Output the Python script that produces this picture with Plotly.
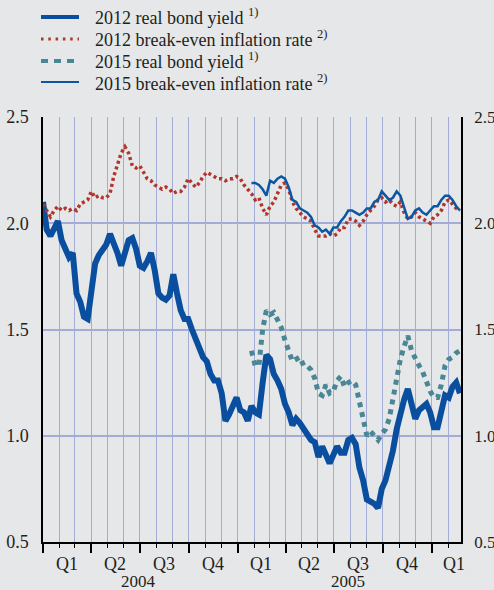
import pandas as pd
import plotly.graph_objects as go

# weekly observation dates (Jan 2004 - Feb 2006)
dates = pd.date_range("2004-01-01", periods=113, freq="7D")
dates15 = dates[56:]

real_2012 = [2.10,1.97,1.94,1.97,2.01,1.92,1.87,1.84,1.86,1.67,
             1.63,1.56,1.55,1.70,1.81,1.85,1.87,1.90,1.95,1.91,
             1.86,1.80,1.86,1.92,1.93,1.88,1.80,1.79,1.82,1.86,
             1.78,1.67,1.65,1.64,1.66,1.76,1.67,1.59,1.55,1.55,
             1.50,1.46,1.41,1.37,1.35,1.29,1.26,1.26,1.20,1.07,
             1.10,1.15,1.18,1.12,1.11,1.07,1.14,1.11,1.10,1.25,
             1.38,1.36,1.29,1.26,1.22,1.15,1.11,1.05,1.08,1.06,
             1.03,1.01,0.98,0.97,0.90,0.95,0.90,0.87,0.91,0.95,
             0.92,0.92,0.98,0.99,0.96,0.85,0.79,0.70,0.69,0.68,
             0.66,0.75,0.79,0.85,0.93,1.03,1.11,1.17,1.22,1.14,
             1.08,1.12,1.14,1.15,1.11,1.04,1.04,1.12,1.19,1.18,
             1.23,1.25,1.20]

bei_2012 = [2.09,2.06,2.03,2.06,2.08,2.06,2.07,2.06,2.07,2.06,
            2.09,2.10,2.11,2.15,2.12,2.13,2.12,2.12,2.14,2.22,
            2.28,2.33,2.36,2.33,2.27,2.26,2.27,2.24,2.21,2.20,
            2.18,2.17,2.16,2.17,2.16,2.14,2.15,2.15,2.17,2.21,
            2.19,2.17,2.19,2.22,2.24,2.23,2.22,2.21,2.21,2.20,
            2.21,2.21,2.22,2.21,2.18,2.16,2.14,2.11,2.12,2.07,
            2.04,2.08,2.10,2.14,2.18,2.19,2.16,2.10,2.07,2.05,
            2.03,2.02,2.01,1.97,1.94,1.94,1.94,1.95,1.94,1.95,
            1.98,1.98,2.02,2.02,2.01,1.99,2.01,2.04,2.06,2.08,
            2.11,2.12,2.10,2.11,2.09,2.08,2.10,2.05,2.02,2.03,
            2.05,2.03,2.02,2.01,2.00,2.03,2.04,2.06,2.10,2.11,
            2.09,2.07,2.06]

real_2015 = [1.40,1.33,1.33,1.50,1.59,1.57,1.58,1.55,1.51,1.45,
             1.40,1.35,1.36,1.37,1.33,1.33,1.31,1.27,1.20,1.19,
             1.24,1.20,1.21,1.26,1.28,1.23,1.25,1.26,1.24,1.16,
             1.10,1.00,1.02,1.00,0.98,1.01,1.03,1.08,1.18,1.26,
             1.36,1.42,1.47,1.40,1.36,1.33,1.30,1.25,1.21,1.18,
             1.18,1.24,1.33,1.36,1.37,1.39,1.40]

bei_2015 = [2.19,2.19,2.18,2.16,2.13,2.20,2.19,2.21,2.22,2.21,
            2.17,2.11,2.10,2.07,2.06,2.05,2.03,1.99,1.98,1.96,
            1.97,1.95,1.98,1.98,2.01,2.03,2.06,2.06,2.05,2.04,
            2.05,2.07,2.07,2.10,2.11,2.15,2.13,2.11,2.12,2.15,
            2.13,2.07,2.02,2.03,2.06,2.07,2.05,2.04,2.06,2.08,
            2.08,2.11,2.13,2.13,2.11,2.08,2.06]

series_names = ["2012 real bond yield <sup>1)</sup>",
                "2012 break-even inflation rate <sup>2)</sup>",
                "2015 real bond yield <sup>1)</sup>",
                "2015 break-even inflation rate <sup>2)</sup>"]

quarter_labels = ["Q1", "Q2", "Q3", "Q4", "Q1", "Q2", "Q3", "Q4", "Q1"]
quarter_pos = ["2004-02-15", "2004-05-16", "2004-08-16", "2004-11-15",
               "2005-02-14", "2005-05-16", "2005-08-16", "2005-11-15", "2006-02-11"]
year_labels = ["2004", "2005"]
year_pos = ["2004-06-28", "2005-07-27"]

FONT = "Liberation Serif"
TXT = "#231f20"
BG = "#e6e7e9"
GRID = "#a3acd6"

styles = [dict(color="#0a4f9f", width=6),
          dict(color="#b0362c", width=3.5, dash="3px,3px"),
          dict(color="#4a8796", width=5, dash="5px,5px"),
          dict(color="#0b57a4", width=2.5)]
legend_widths = [4, 3, 4, 2]

fig = go.Figure()
fig.add_trace(go.Scatter(x=dates, y=real_2012, mode="lines",
                         name=series_names[0], line=styles[0]))
fig.add_trace(go.Scatter(x=dates, y=bei_2012, mode="lines",
                         name=series_names[1], line=styles[1]))
fig.add_trace(go.Scatter(x=dates15, y=real_2015, mode="lines",
                         name=series_names[2], line=styles[2]))
fig.add_trace(go.Scatter(x=dates15, y=bei_2015, mode="lines", yaxis="y2",
                         name=series_names[3], line=styles[3]))

# plot area geometry in pixels (for the hand-drawn legend key)
PL, PR, PT, PB = 43, 461, 117, 542
W, H = PR - PL, PB - PT
def px(x):
    return (x - PL) / W
def py(y):
    return (PB - y) / H

ann = []
shapes = []
legend_rows = [17, 39, 61, 82]
legend_dash = [None, "2.5px,4.8px", "7px,6px", None]
for name, st, lw, ld, ry in zip(series_names, styles, legend_widths, legend_dash, legend_rows):
    shapes.append(dict(type="line", xref="paper", yref="paper",
                       x0=px(41), x1=px(79), y0=py(ry), y1=py(ry),
                       line=dict(color=st["color"], width=lw,
                                 dash=ld if ld else "solid")))
    ann.append(dict(x=px(93), y=py(ry), xref="paper", yref="paper", text=name,
                    showarrow=False, xanchor="left", yanchor="middle",
                    font=dict(family=FONT, size=18, color=TXT)))

for lab, pos in zip(quarter_labels, quarter_pos):
    ann.append(dict(x=pos, y=-22/H, xref="x", yref="paper", text=lab,
                    showarrow=False, xanchor="center", yanchor="middle",
                    font=dict(family=FONT, size=18, color=TXT)))
for lab, pos in zip(year_labels, year_pos):
    ann.append(dict(x=pos, y=-39/H, xref="x", yref="paper", text=lab,
                    showarrow=False, xanchor="center", yanchor="middle",
                    font=dict(family=FONT, size=17, color=TXT)))

yax = dict(range=[0.5, 2.5], dtick=0.5, tick0=0.5, tickformat=".1f",
           showline=True, linecolor="black", linewidth=1.5, ticks="",
           zeroline=False, fixedrange=True)

fig.update_layout(
    width=494, height=590,
    margin=dict(l=PL, r=494 - PR, t=PT, b=590 - PB, autoexpand=False),
    paper_bgcolor=BG, plot_bgcolor=BG,
    font=dict(family=FONT, size=18, color=TXT),
    showlegend=False,
    xaxis=dict(type="date", range=["2004-01-01", "2006-02-25"],
               showgrid=True, gridcolor=GRID, gridwidth=1,
               dtick="M3", tick0="2004-01-01", ticks="outside", ticklen=9,
               tickcolor="black", tickwidth=1.5, showticklabels=False,
               showline=True, linecolor="black", linewidth=1.5, zeroline=False,
               minor=dict(dtick="M1", tick0="2004-01-01", ticks="outside",
                          ticklen=4, tickcolor="black", tickwidth=1.2,
                          showgrid=True, gridcolor=GRID, gridwidth=1)),
    yaxis=dict(**yax, side="left", showgrid=True, gridcolor=GRID, gridwidth=1.5,
               ticklabelstandoff=9,
               tickfont=dict(family=FONT, size=18, color=TXT)),
    yaxis2=dict(**yax, side="right", overlaying="y", showgrid=False,
                ticklabelstandoff=8,
                tickfont=dict(family=FONT, size=17, color=TXT)),
    annotations=ann,
    shapes=shapes,
)

fig.write_html("out.html",
               config={"displayModeBar": False},
               post_script="document.body.style.margin='0px';"
                           "document.body.style.background='#e6e7e9';")
